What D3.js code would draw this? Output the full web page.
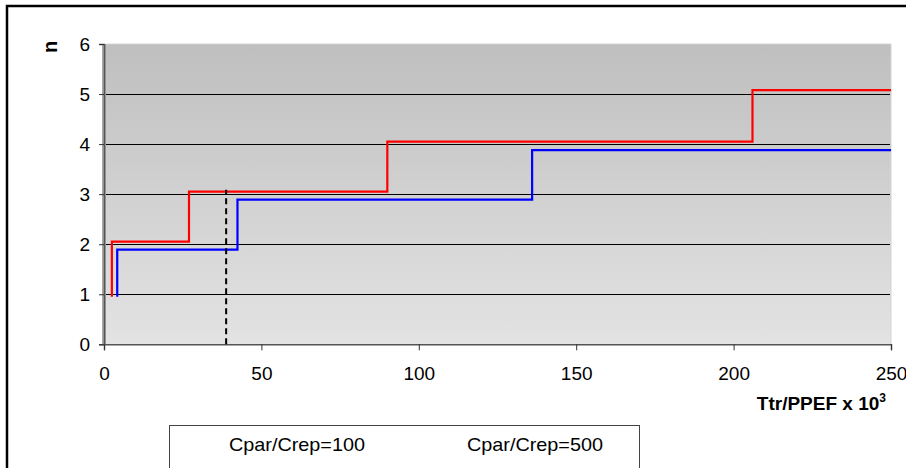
<!DOCTYPE html>
<html><head><meta charset="utf-8">
<script src="https://cdn.jsdelivr.net/npm/d3@7"></script>
<style>html,body{margin:0;padding:0;background:#fff;}svg{display:block;font-family:"Liberation Sans",Arial,sans-serif;}</style>
</head><body>
<script>
const xTicks = [0, 50, 100, 150, 200, 250];
const yTicks = [0, 1, 2, 3, 4, 5, 6];
const seriesNames = ["Cpar/Crep=100", "Cpar/Crep=500"];
const redX = [2.5, 2.5, 27, 90, 206, 250];
const redY = [0.95, 2.05, 3.05, 4.05, 5.08, 5.08];
const blueX = [4.2, 4.2, 42.4, 136, 250];
const blueY = [0.95, 1.89, 2.89, 3.88, 3.88];
const markerX = [38.8, 38.8];
const markerY = [0, 3.09];

const W = 906, H = 468;
const L = 104, R = 891, T = 44, B = 344.3;
const svg = d3.select("body").append("svg").attr("width", W).attr("height", H);

const x = d3.scaleLinear().domain([0, 250]).range([L, R]);
const y = d3.scaleLinear().domain([0, 6]).range([B, T]);

// outer frame
svg.append("rect").attr("x", 7).attr("y", 6).attr("width", W + 10).attr("height", H + 10)
  .attr("fill", "none").attr("stroke", "#000").attr("stroke-width", 2.5);

// gradient
const defs = svg.append("defs");
const g = defs.append("linearGradient").attr("id", "bg").attr("x1", 0).attr("y1", 0).attr("x2", 0).attr("y2", 1);
g.append("stop").attr("offset", "0%").attr("stop-color", "#bfbfbf");
g.append("stop").attr("offset", "100%").attr("stop-color", "#e3e3e3");

// 3D wall strip
svg.append("rect").attr("x", L - 2).attr("y", T).attr("width", 4).attr("height", B - T)
  .attr("fill", "#a8a8a8");
svg.append("rect").attr("x", L + 2).attr("y", T).attr("width", R - L - 2).attr("height", B - T)
  .attr("fill", "url(#bg)");
svg.append("line").attr("x1", L + 2).attr("x2", R).attr("y1", T).attr("y2", T).attr("stroke", "#d4d4d4");
svg.append("line").attr("x1", R).attr("x2", R).attr("y1", T).attr("y2", B).attr("stroke", "#d4d4d4");

// gridlines
svg.append("g").selectAll("line").data(yTicks.filter(d => d > 0 && d < 6)).join("line")
  .attr("x1", L + 2).attr("x2", R - 1).attr("y1", d => Math.round(y(d)) + 0.5).attr("y2", d => Math.round(y(d)) + 0.5)
  .attr("stroke", "#000").attr("stroke-width", 1);

// axes
const yAxis = d3.axisLeft(y).tickValues(yTicks).tickSize(5).tickPadding(9).tickFormat(d3.format("d"));
const ya = svg.append("g").attr("transform", `translate(${L},0)`).call(yAxis);
const xAxis = d3.axisBottom(x).tickValues(xTicks).tickSize(6).tickPadding(16).tickFormat(d3.format("d"));
const xa = svg.append("g").attr("transform", `translate(0,${B})`).call(xAxis);
[ya, xa].forEach(a => {
  a.select(".domain").attr("stroke", "#555").attr("stroke-width", 1.5);
  a.selectAll(".tick line").attr("stroke", "#333");
  a.selectAll("text").attr("font-size", 19).attr("fill", "#000").attr("font-family", "Liberation Sans, Arial, sans-serif");
});

// axis titles
svg.append("text").attr("transform", "translate(57,47) rotate(-90)").attr("text-anchor", "middle")
  .attr("font-size", 20).attr("font-weight", "bold").text("n");
const xt = svg.append("text").attr("x", 886).attr("y", 410).attr("text-anchor", "end")
  .attr("font-size", 19).attr("font-weight", "bold");
xt.append("tspan").text("Ttr/PPEF x 10");
xt.append("tspan").attr("font-size", 12).attr("dy", -8).text("3");

// lines
const line = d3.line().x(d => x(d[0])).y(d => y(d[1])).curve(d3.curveStepAfter);
const redPts = redX.map((v, i) => [v, redY[i]]);
const bluePts = blueX.map((v, i) => [v, blueY[i]]);
svg.append("path").attr("d", line(redPts)).attr("fill", "none").attr("stroke", "#ff0000").attr("stroke-width", 2.2);
svg.append("path").attr("d", line(bluePts)).attr("fill", "none").attr("stroke", "#0000ff").attr("stroke-width", 2.2);
const lin = d3.line().x(d => x(d[0])).y(d => y(d[1]));
svg.append("path").attr("d", lin(markerX.map((v, i) => [v, markerY[i]])))
  .attr("fill", "none").attr("stroke", "#000").attr("stroke-width", 2).attr("stroke-dasharray", "6,4");

// legend
svg.append("rect").attr("x", 169.5).attr("y", 425.5).attr("width", 470).attr("height", 60)
  .attr("fill", "#fff").attr("stroke", "#444").attr("stroke-width", 1);
const legX = [297, 535];
svg.append("g").selectAll("text").data(seriesNames).join("text")
  .attr("x", (d, i) => legX[i]).attr("y", 451).attr("text-anchor", "middle")
  .attr("font-size", 19).attr("textLength", 136).attr("lengthAdjust", "spacingAndGlyphs").text(d => d);
</script>
</body></html>
